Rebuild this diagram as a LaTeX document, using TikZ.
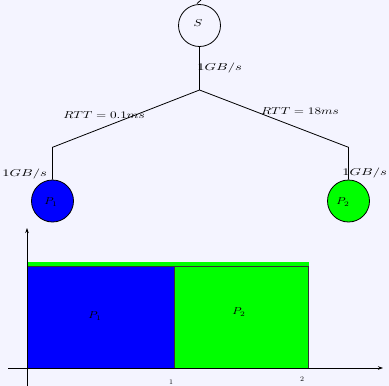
\documentclass[tikz,border=0pt]{standalone}
\usetikzlibrary{arrows.meta}
\definecolor{bg}{RGB}{244,244,255}
\definecolor{pblue}{RGB}{0,0,255}
\definecolor{pgreen}{RGB}{0,255,0}
\begin{document}
\begin{tikzpicture}[x=1pt,y=-1pt,
  proc/.style={circle,draw,line width=0.8pt,minimum size=42pt,inner sep=0pt},
  wire/.style={line width=0.8pt},
  lbl/.style={inner sep=0pt,font=\fontsize{10}{12}\selectfont},
  tick/.style={inner sep=0pt,font=\fontsize{7}{8}\selectfont},
  ax/.style={line width=0.8pt,-{Stealth[length=5pt,width=3.5pt]}},
  bar/.style={draw=black!80,line width=0.6pt}]
\fill[bg] (0,0) rectangle (389,386);
\useasboundingbox (0,0) rectangle (389,386);
% network
\node[proc] (S) at (199.5,25.5) {};
\node[proc,fill=pblue] (P1) at (52.5,201) {};
\node[proc,fill=pgreen] (P2) at (348.5,201) {};
\node[lbl] (Sl) at (198,23) {\scalebox{1.3}[1]{$S$}};
\node[lbl] (P1l) at (51,202) {\scalebox{1.2}[1]{$P_1$}};
\node[lbl] (P2l) at (343,202) {\scalebox{1.2}[1]{$P_2$}};
\coordinate (J) at (199.5,90);
\coordinate (K1) at (52.5,147.3);
\coordinate (K2) at (348.5,147.3);
\coordinate (T0) at (197,3.5);
\coordinate (T1) at (201,0);
\draw[wire] (T0) -- (T1);
\draw[wire] (S.south) -- (J);
\draw[wire] (J) -- (K1) -- (P1.north);
\draw[wire] (J) -- (K2) -- (P2.north);
\node[lbl] (b0) at (219.7,68) {\scalebox{1.45}[1]{$1GB/s$}};
\node[lbl] (b1) at (24.7,174) {\scalebox{1.45}[1]{$1GB/s$}};
\node[lbl] (b2) at (364.7,173) {\scalebox{1.45}[1]{$1GB/s$}};
\node[lbl] (r1) at (104,115) {\scalebox{1.32}[1]{$RTT=0.1ms$}};
\node[lbl] (r2) at (300,111) {\scalebox{1.32}[1]{$RTT=18ms$}};
% chart
\fill[pgreen] (27,261.7) rectangle (308.7,368);
\draw[bar,fill=pblue] (27,266) rectangle (174.7,368);
\draw[bar,fill=pgreen] (174.7,266) rectangle (308.7,368);
\node[lbl] (c1) at (95,316) {\scalebox{1.2}[1]{$P_1$}};
\node[lbl] (c2) at (239,312) {\scalebox{1.2}[1]{$P_2$}};
\coordinate (xa) at (8,368);
\coordinate (xb) at (383,368);
\coordinate (ya) at (27,386);
\coordinate (yb) at (27,228);
\draw[ax] (xa) -- (xb);
\draw[ax] (ya) -- (yb);
\node[tick] (t1) at (171,382) {$1$};
\node[tick] (t2) at (302,379) {$2$};
\end{tikzpicture}
\end{document}
